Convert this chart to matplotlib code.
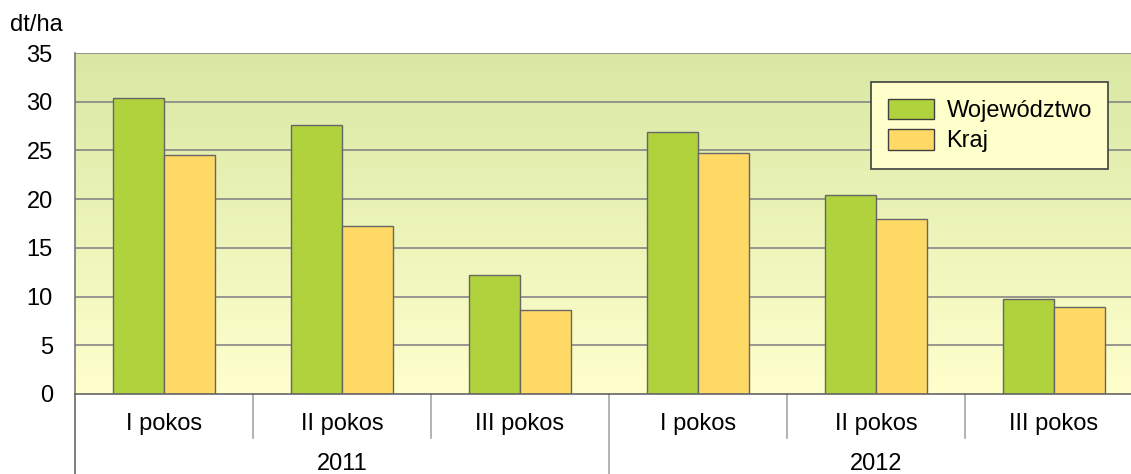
import numpy as np
import matplotlib
matplotlib.use('Agg')
import matplotlib.pyplot as plt
from matplotlib.colors import LinearSegmentedColormap
from matplotlib.patches import Patch

plt.rcParams['font.family'] = ['Liberation Sans', 'DejaVu Sans']

categories = ['I pokos', 'II pokos', 'III pokos', 'I pokos', 'II pokos', 'III pokos']
years = ['2011', '2012']
wojewodztwo = [30.4, 27.6, 12.2, 26.9, 20.4, 9.7]
kraj = [24.5, 17.2, 8.6, 24.7, 18.0, 8.9]

green = '#b0d23c'
yellow = '#ffd966'
edge = '#666666'
fs = 17

fig = plt.figure(figsize=(11.31, 4.74), dpi=100)
# axes run past the right edge of the picture, as in the reference
ax = fig.add_axes([75 / 1131, 80 / 474, 1068 / 1131, 341 / 474])

x = np.arange(len(categories))
w = 0.2865

# gradient background
grad = LinearSegmentedColormap.from_list('bg', ['#ffffcc', '#d8e8a4'])
ax.imshow(np.linspace(0, 1, 256).reshape(-1, 1), aspect='auto', cmap=grad,
          extent=(-0.5, 5.5, 0, 35), origin='lower', zorder=0)

for yv in range(5, 40, 5):
    ax.axhline(yv, color='#868686', lw=1.2, zorder=1)

ax.bar(x - w / 2, wojewodztwo, w, color=green, edgecolor=edge, lw=1, zorder=2)
ax.bar(x + w / 2, kraj, w, color=yellow, edgecolor=edge, lw=1, zorder=2)

ax.set_xlim(-0.5, 5.5)
ax.set_ylim(0, 35)
ax.set_yticks(range(0, 40, 5))
ax.tick_params(axis='y', length=0, pad=16, labelsize=fs)
ax.set_xticks([])
for s in ['top', 'right']:
    ax.spines[s].set_visible(False)
ax.spines['left'].set_color('#777777')
ax.spines['bottom'].set_color('#666666')
ax.spines['left'].set_linewidth(1.2)
ax.spines['bottom'].set_linewidth(1.2)

tr = ax.get_xaxis_transform()
for i, c in enumerate(categories):
    ax.text(i, -0.088, c, transform=tr, ha='center', va='center', fontsize=fs)
for xs in [0.5, 1.5, 3.5, 4.5]:
    ax.plot([xs, xs], [0, -0.129], transform=tr, color='#a6a6a6', lw=1.2, clip_on=False)
for xs in [-0.5, 2.5]:
    ax.plot([xs, xs], [0, -0.3], transform=tr, color='#a6a6a6', lw=1.2, clip_on=False)
ax.plot([-0.5, -0.5], [0, -0.3], transform=tr, color='#777777', lw=1.2, clip_on=False)
for j, yr in enumerate(years):
    ax.text(1 + 3 * j, -0.206, yr, transform=tr, ha='center', va='center', fontsize=fs)

fig.text(10 / 1131, 1 - 25 / 474, 'dt/ha', ha='left', va='center', fontsize=fs)

handles = [Patch(facecolor=green, edgecolor='#404040', label='Województwo'),
           Patch(facecolor=yellow, edgecolor='#404040', label='Kraj')]
leg = ax.legend(handles=handles, loc='upper left', bbox_to_anchor=(0.7453, 0.915),
                borderaxespad=0, fontsize=fs, frameon=True, fancybox=False,
                facecolor='#ffffcc', edgecolor='#404040', framealpha=1,
                handlelength=1.95, handleheight=0.97, handletextpad=0.55,
                labelspacing=0.3, borderpad=0.7)
leg.get_frame().set_linewidth(1.2)
leg.set_zorder(5)

fig.savefig('out.png', dpi=100)
